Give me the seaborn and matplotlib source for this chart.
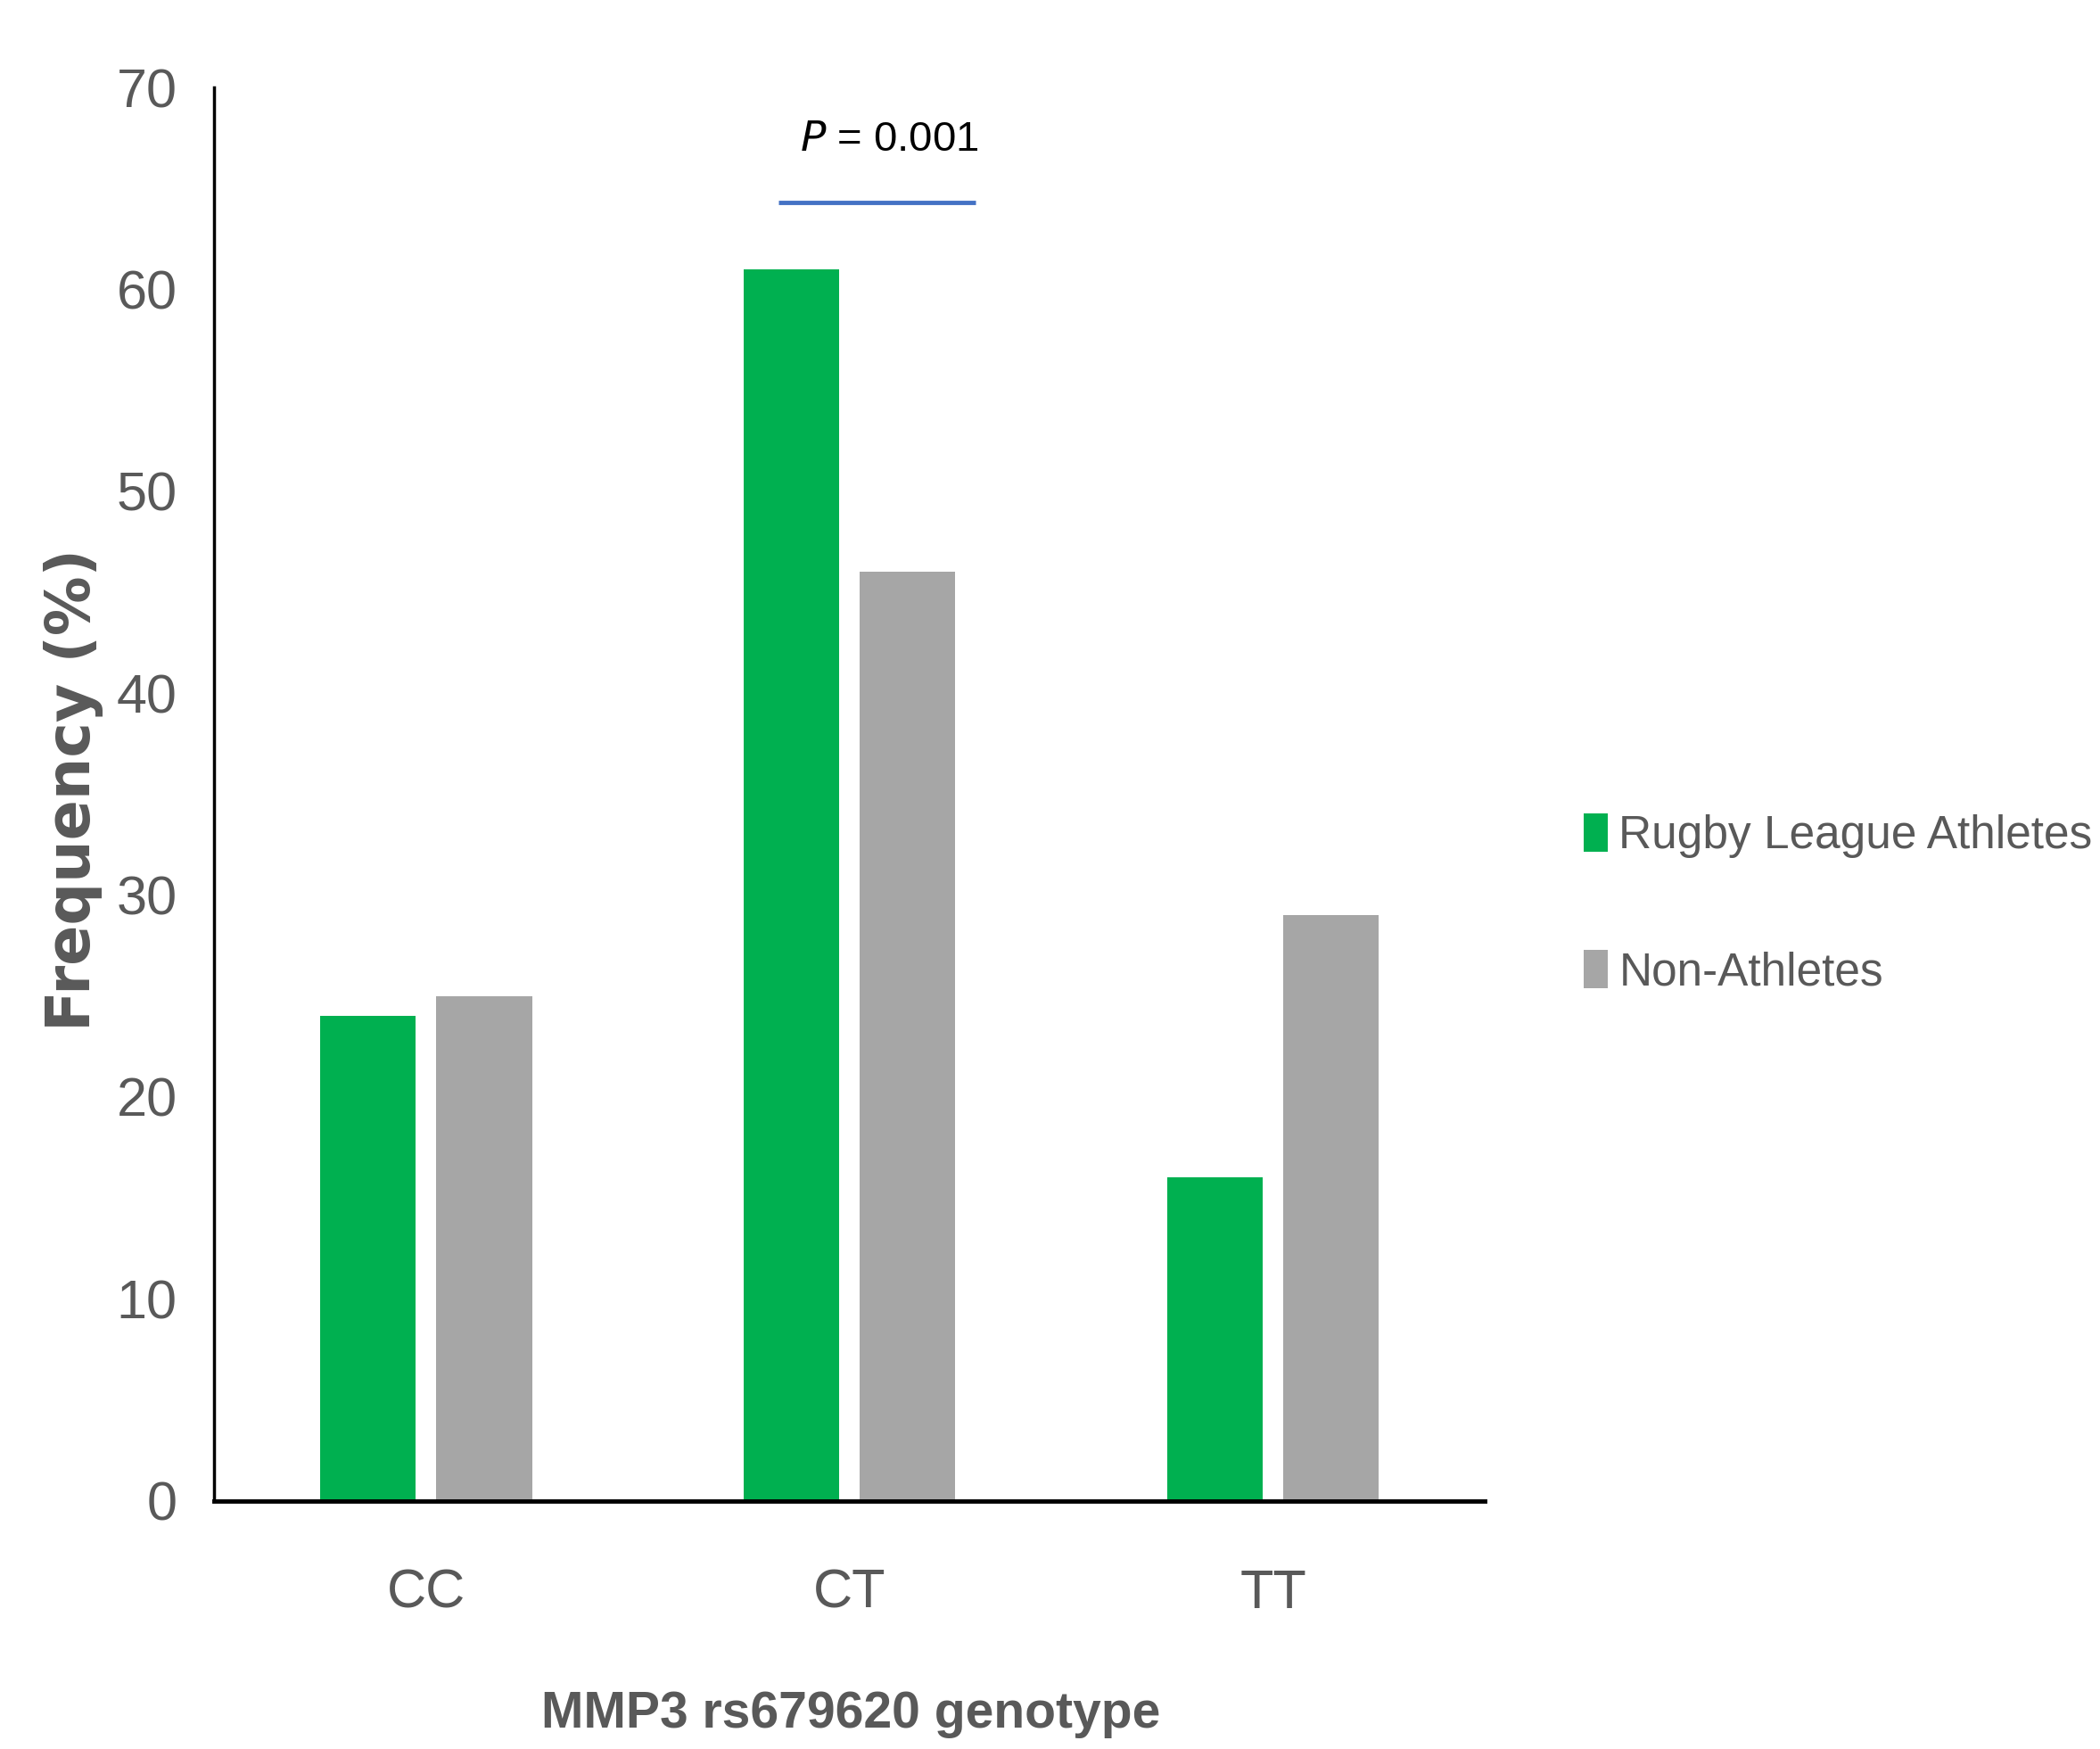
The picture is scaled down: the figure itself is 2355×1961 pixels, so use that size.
import pandas as pd
import seaborn as sns
import matplotlib.pyplot as plt
from matplotlib.patches import Patch

genotypes = ['CC', 'CT', 'TT']
athletes = [24, 61, 16]
non_athletes = [25, 46, 29]
groups = ['Rugby League Athletes', 'Non-Athletes']
colors = ['#00B050', '#A6A6A6']

df = pd.DataFrame({
    'genotype': genotypes * 2,
    'freq': athletes + non_athletes,
    'group': [groups[0]] * 3 + [groups[1]] * 3,
})

sns.set_style("white")
plt.rcParams['font.family'] = ['Liberation Sans', 'DejaVu Sans']

fig = plt.figure(figsize=(23.55, 19.61), dpi=100)
ax = fig.add_axes([0.102, 0.142, 0.605, 0.808])

sns.barplot(data=df, x='genotype', y='freq', hue='group', palette=colors,
            width=0.55, gap=0.18, saturation=1, linewidth=0, legend=False, ax=ax)

ax.set_ylim(0, 70)
ax.set_xlim(-0.5, 2.5)
ax.set_yticks(range(0, 71, 10))
ax.tick_params(axis='both', length=0, labelsize=44, labelcolor='#595959')
ax.tick_params(axis='x', pad=55)
ax.tick_params(axis='y', pad=30)
sns.despine(ax=ax)
ax.spines['left'].set_color('black')
ax.spines['left'].set_linewidth(2.5)
ax.spines['bottom'].set_color('black')
ax.spines['bottom'].set_linewidth(3.5)

ax.set_xlabel('MMP3 rs679620 genotype', fontsize=41, fontweight='bold', color='#595959')
ax.xaxis.set_label_coords(0.501, -0.134)
ax.set_ylabel('Frequency (%)', fontsize=48, fontweight='bold', color='#595959',
              family='DejaVu Sans')
ax.yaxis.set_label_coords(-0.087, 0.503)

# significance marker
ax.plot([0.833, 1.297], [64.3, 64.3], color='#4472C4', lw=3.5, solid_capstyle='butt')
ax.text(1.093, 67.4, r'$\it{P}$ = 0.001', ha='center', va='center', fontsize=34, color='black')

handles = [Patch(facecolor=c, edgecolor='none') for c in colors]
fig.legend(handles, groups, loc='center left', bbox_to_anchor=(0.754, 0.483),
           frameon=False, fontsize=37, labelcolor='#595959', borderpad=0, borderaxespad=0,
           handlelength=0.525, handleheight=0.9, handletextpad=0.25, labelspacing=2.0)

plt.savefig('out.png', dpi=100)
